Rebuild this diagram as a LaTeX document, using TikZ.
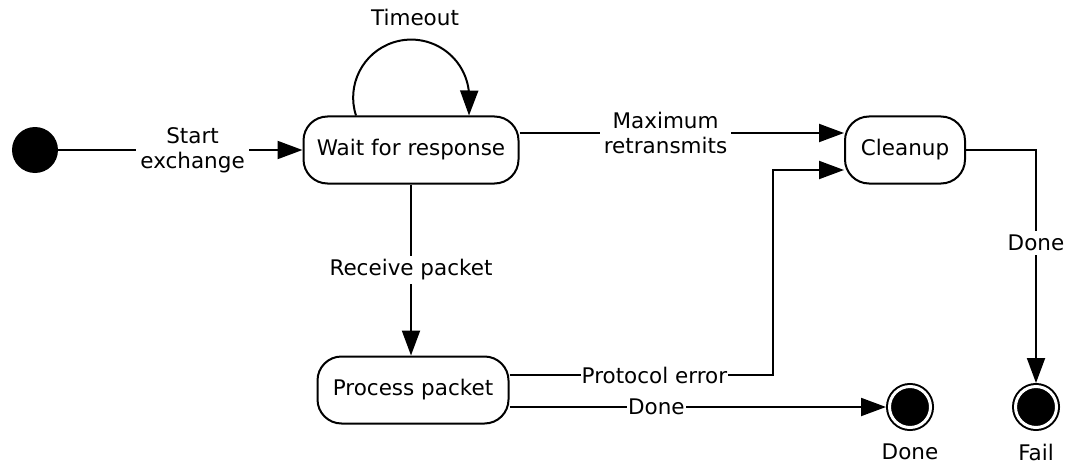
\documentclass[tikz,border=0pt]{standalone}
\usepackage{fontspec}
\setmainfont{DejaVu Sans}
\usetikzlibrary{arrows.meta}
\begin{document}
\begin{tikzpicture}[x=1pt,y=1pt,
  every node/.style={font=\fontsize{21.5}{25}\selectfont},
  state/.style={draw,line width=2pt,rounded corners=24pt,minimum height=67pt,inner sep=0pt},
  initstate/.style={circle,fill=black,minimum size=46pt,inner sep=0pt},
  endstate/.style={circle,draw,fill=black,line width=2pt,double=white,double distance=3pt,minimum size=41pt,inner sep=0pt,outer sep=3.5pt},
  arr/.style={line width=2pt,-{Triangle[length=25pt,width=18pt]}},
  lbl/.style={fill=white,inner sep=1pt,align=center},
  txt/.style={inner sep=0pt}]
\useasboundingbox (0,0) rectangle (1067,-468);
\node[initstate] (init) at (35,-150) {};
\node[state,minimum width=215pt] (wait) at (411,-150) {Wait for response};
\node[state,minimum width=120pt] (cleanup) at (905,-150) {Cleanup};
\node[state,minimum width=191pt] (proc) at (413,-390) {Process packet};
\node[endstate] (done) at (910,-407) {};
\node[endstate] (fail) at (1036,-407) {};
\node[txt] (donelbl) at (910,-452) {Done};
\node[txt] (faillbl) at (1036,-452) {Fail};
\node[txt] (timeout) at (415,-17) {Timeout};
\draw[arr] (init) -- node[lbl,pos=0.55,inner sep=4pt]{Start\\exchange} (wait);
\draw[arr] ([xshift=-55pt]wait.north) arc(198:0:58) -- ([xshift=58pt]wait.north);
\draw[arr] ([yshift=17pt]wait.east) -- node[lbl,pos=0.45,inner sep=4pt]{Maximum\\retransmits} ([yshift=17pt]cleanup.west);
\draw[arr] (wait.south) -- node[lbl,inner sep=4pt]{Receive packet} (wait.south |- proc.north);
\coordinate (pe) at (773,-375);
\draw[arr] ([yshift=15pt]proc.east) -- node[lbl,pos=0.55]{Protocol error} (pe) |- ([yshift=-20pt]cleanup.west);
\draw[arr] ([yshift=-17pt]proc.east) -- node[lbl,pos=0.39]{Done} (done);
\draw[arr] (cleanup.east) -- (cleanup.east -| fail) -- node[lbl,pos=0.4,inner sep=4pt]{Done} (fail);
\end{tikzpicture}
\end{document}
